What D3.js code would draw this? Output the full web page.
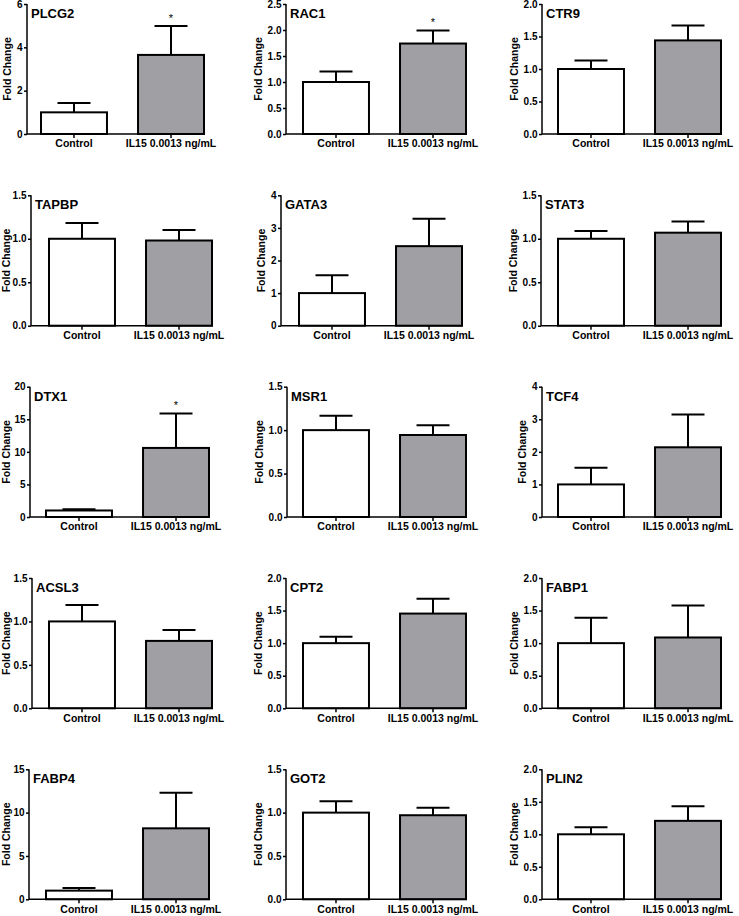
<!DOCTYPE html>
<html>
<head>
<meta charset="utf-8">
<script src="https://cdn.jsdelivr.net/npm/d3@7"></script>
<style>
  html, body { margin: 0; padding: 0; background: #fff; }
  svg { display: block; }
  text { font-family: "Liberation Sans", Arial, sans-serif; }
</style>
</head>
<body>
<svg id="chart" width="739" height="916"></svg>
<script>
// ---------------- DATA ----------------
const genes = ["PLCG2","RAC1","CTR9","TAPBP","GATA3","STAT3","DTX1","MSR1","TCF4","ACSL3","CPT2","FABP1","FABP4","GOT2","PLIN2"];
const categories = ["Control", "IL15 0.0013 ng/mL"];
const controlMeans = [1.0, 1.0, 1.0, 1.0, 1.0, 1.0, 1.0, 1.0, 1.0, 1.0, 1.0, 1.0, 1.0, 1.0, 1.0];
const controlErr   = [0.43, 0.20, 0.13, 0.18, 0.55, 0.09, 0.18, 0.166, 0.51, 0.19, 0.10, 0.39, 0.30, 0.13, 0.11];
const il15Means    = [3.65, 1.74, 1.44, 0.98, 2.44, 1.07, 10.6, 0.944, 2.14, 0.776, 1.454, 1.087, 8.19, 0.97, 1.207];
const il15Err      = [1.33, 0.25, 0.23, 0.12, 0.84, 0.13, 5.3, 0.112, 1.01, 0.124, 0.226, 0.49, 4.11, 0.087, 0.223];
const yMax         = [6, 2.5, 2, 1.5, 4, 1.5, 20, 1.5, 4, 1.5, 2, 2, 15, 1.5, 2];
const yStep        = [2, 0.5, 0.5, 0.5, 1, 0.5, 5, 0.5, 1, 0.5, 0.5, 0.5, 5, 0.5, 0.5];
const significant  = [true, true, false, false, false, false, true, false, false, false, false, false, false, false, false];
const yTitle = "Fold Change";

// ---------------- LAYOUT ----------------
const panelAxisX   = [27, 286, 542, 31, 281, 541, 30, 287, 542, 32, 286, 542, 29, 286, 542];
const panelBarLeft = [41, 303, 558, 49, 299, 558, 46, 303, 558, 49, 303, 558, 46, 303, 558];
const rowTop  = [4, 195.3, 386.7, 578, 769.3];
const rowZero = [134, 325.7, 517, 708.3, 899.3];
const barSpan = 163;          // left of first bar to right of second bar
const barFill = ["#ffffff", "#a0a0a4"];

const svg = d3.select("#chart");

genes.forEach((gene, i) => {
  const row = Math.floor(i / 3);
  const axisX = panelAxisX[i];
  const barL = panelBarLeft[i];
  const top = rowTop[row], zero = rowZero[row];

  const g = svg.append("g");
  const y = d3.scaleLinear().domain([0, yMax[i]]).range([zero, top]);
  const x = d3.scaleBand().domain(categories).range([barL, barL + barSpan]).paddingInner(0.32).paddingOuter(0);
  const bw = x.bandwidth();

  const means = [controlMeans[i], il15Means[i]];
  const errs = [controlErr[i], il15Err[i]];
  const rows = categories.map((c, k) => ({ c, m: means[k], e: errs[k], k }));

  // error bars (upper only), drawn before bars
  rows.forEach(d => {
    const cx = x(d.c) + bw / 2;
    g.append("line").attr("x1", cx).attr("x2", cx)
      .attr("y1", y(d.m)).attr("y2", y(d.m + d.e))
      .attr("stroke", "#000").attr("stroke-width", 2);
    g.append("line").attr("x1", cx - bw / 4).attr("x2", cx + bw / 4)
      .attr("y1", y(d.m + d.e)).attr("y2", y(d.m + d.e))
      .attr("stroke", "#000").attr("stroke-width", 2);
  });

  // bars
  g.selectAll("rect.bar").data(rows).enter().append("rect")
    .attr("class", "bar")
    .attr("x", d => x(d.c))
    .attr("width", bw)
    .attr("y", d => y(d.m))
    .attr("height", d => zero - y(d.m))
    .attr("fill", d => barFill[d.k])
    .attr("stroke", "#000").attr("stroke-width", 2);

  // significance
  if (significant[i]) {
    const d = rows[1];
    g.append("text")
      .attr("x", x(d.c) + bw / 2)
      .attr("y", y(d.m + d.e) - 4.5)
      .attr("text-anchor", "middle")
      .attr("font-size", 11)
      .text("*");
  }

  // Y axis
  const ticks = d3.range(0, yMax[i] + yStep[i] / 2, yStep[i]);
  const fmt = yStep[i] < 1 ? d3.format(".1f") : d3.format("d");
  const ya = g.append("g").attr("transform", `translate(${axisX},0)`)
    .call(d3.axisLeft(y).tickValues(ticks).tickFormat(fmt).tickSize(3).tickSizeOuter(0).tickPadding(1.5));
  ya.select(".domain").attr("stroke-width", 1.5).attr("d", `M0,${top}V${zero}`);
  ya.selectAll(".tick line").attr("stroke-width", 1.5);
  ya.selectAll(".tick text").attr("font-size", 10).attr("font-weight", "bold")
    .attr("font-family", "Liberation Sans, Arial, sans-serif").attr("fill", "#000");

  // X axis
  const xa = g.append("g").attr("transform", `translate(0,${zero})`)
    .call(d3.axisBottom(x).tickSize(4).tickSizeOuter(0).tickPadding(2));
  xa.select(".domain").attr("stroke-width", 1.5).attr("d", `M${axisX},0H${barL + barSpan + 1}`);
  xa.selectAll(".tick line").attr("stroke-width", 1.5);
  xa.selectAll(".tick text").attr("font-size", 10.5).attr("font-weight", "bold")
    .attr("font-family", "Liberation Sans, Arial, sans-serif").attr("fill", "#000");

  // Y title
  const bb = ya.node().getBBox();
  const tx = Math.max(axisX + bb.x - 6, 10);
  g.append("text")
    .attr("transform", `translate(${tx},${(top + zero) / 2}) rotate(-90)`)
    .attr("text-anchor", "middle")
    .attr("font-size", 10.5).attr("font-weight", "bold")
    .text(yTitle);

  // panel title
  g.append("text")
    .attr("x", axisX + 4)
    .attr("y", top + 14)
    .attr("font-size", 13).attr("font-weight", "bold")
    .text(gene);
});
</script>
</body>
</html>
